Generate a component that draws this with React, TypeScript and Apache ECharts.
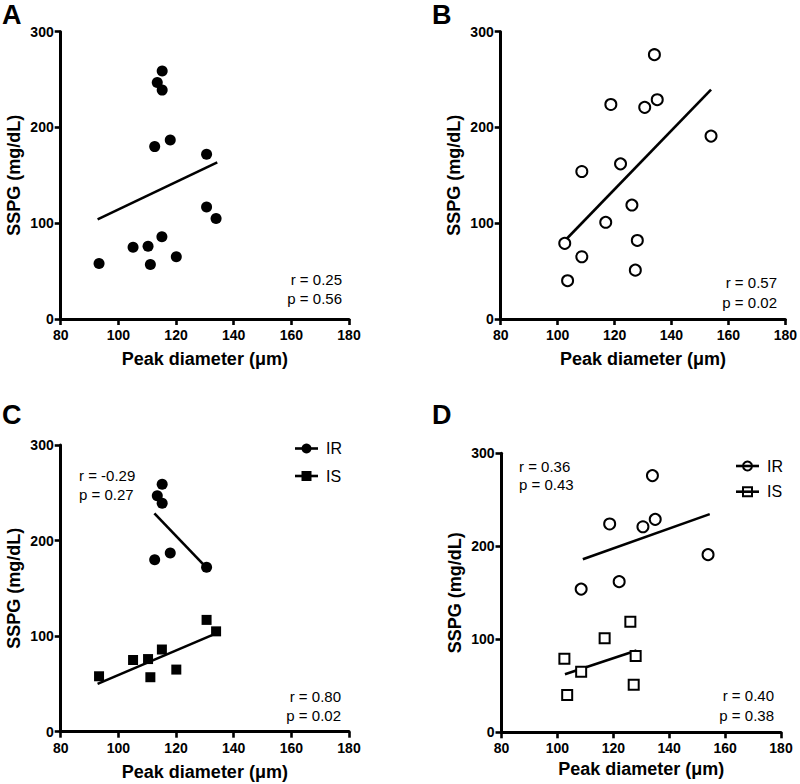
import React, { useEffect, useRef } from "react";
import * as echarts from "echarts";

// ---- Data ----
// Insulin-resistant (IR) subjects: [peak diameter µm, SSPG mg/dL]
const irA: number[][] = [
  [112.6, 180], [118, 187], [113.5, 247], [115.2, 259], [115.2, 239], [130.6, 172],
];
// Insulin-sensitive (IS) subjects
const isA: number[][] = [
  [93.3, 58], [105.1, 75], [110.3, 76], [111.1, 57], [115.1, 86], [120.1, 65], [130.6, 117], [133.9, 105],
];
const irB: number[][] = [
  [108.5, 154], [118.7, 224], [122.1, 162], [130.6, 221], [134, 276], [135, 229], [153.9, 191],
];
const isB: number[][] = [
  [102.5, 79], [103.5, 40], [108.5, 65], [116.9, 101], [126.1, 119], [127.3, 51], [128, 82],
];
// Regression lines (end points)
const fitA: number[][] = [[92.8, 104], [134.3, 163.5]];
const fitB: number[][] = [[102.6, 82], [153.9, 239.5]];
const fitCIR: number[][] = [[112.5, 228.5], [130.8, 171]];
const fitCIS: number[][] = [[92.8, 50], [132.5, 101]];
const fitDIR: number[][] = [[109.1, 186], [154.5, 234.6]];
const fitDIS: number[][] = [[102.7, 62.5], [128.3, 88]];

const xTicks = { min: 80, max: 180, interval: 20 };
const yTicks = { min: 0, max: 300, interval: 100 };

const panelLetters = ["A", "B", "C", "D"];
const statsA = ["r = 0.25", "p = 0.56"];
const statsB = ["r = 0.57", "p = 0.02"];
const statsCIR = ["r = -0.29", "p = 0.27"];
const statsCIS = ["r = 0.80", "p = 0.02"];
const statsDIR = ["r = 0.36", "p = 0.43"];
const statsDIS = ["r = 0.40", "p = 0.38"];
const legendNames = ["IR", "IS"];

const xName = "Peak diameter (\u03bcm)";
const yName = "SSPG (mg/dL)";

const FONT = "Liberation Sans, Arial, Helvetica, sans-serif";

export default function App() {
  const ref = useRef<HTMLDivElement>(null);

  useEffect(() => {
    if (!ref.current) return;
    const chart = echarts.init(ref.current, undefined, { renderer: "svg" });

    const grids = [
      { left: 60.7, top: 31.7, width: 288.3, height: 287.3 },
      { left: 500.7, top: 31.7, width: 287.6, height: 287.3 },
      { left: 60.7, top: 445, width: 288.3, height: 286.7 },
      { left: 501.5, top: 453.3, width: 279.5, height: 279 },
    ];

    const axisCommon = {
      axisLine: { show: true, lineStyle: { color: "#000", width: 3 } },
      axisTick: { show: true, inside: false, length: 6, lineStyle: { color: "#000", width: 2.6 } },
      splitLine: { show: false },
      nameTextStyle: { fontFamily: FONT, fontWeight: "bold", fontSize: 18, color: "#000" },
      nameLocation: "middle",
    };

    const xAxes = grids.map((_, i) => ({
      ...axisCommon,
      type: "value",
      gridIndex: i,
      min: xTicks.min,
      max: xTicks.max,
      interval: xTicks.interval,
      name: xName,
      nameGap: i === 3 ? 28 : 31,
      axisLabel: { fontFamily: FONT, fontWeight: "bold", fontSize: 14, color: "#000", margin: 9 },
    }));
    const yAxes = grids.map((_, i) => ({
      ...axisCommon,
      type: "value",
      gridIndex: i,
      min: yTicks.min,
      max: yTicks.max,
      interval: yTicks.interval,
      name: yName,
      nameGap: 38,
      axisLabel: { fontFamily: FONT, fontWeight: "bold", fontSize: 14, color: "#000", margin: 7 },
    }));

    const filled = { color: "#000", opacity: 1 };
    const open = { color: "#fff", borderColor: "#000", borderWidth: 2, opacity: 1 };

    const scatter = (data: number[][], idx: number, symbol: string, style: any, size: number, name?: string) => ({
      type: "scatter",
      name,
      xAxisIndex: idx,
      yAxisIndex: idx,
      data,
      symbol,
      symbolSize: size,
      itemStyle: style,
      emphasis: { disabled: true },
      z: 3,
    });
    const fit = (data: number[][], idx: number) => ({
      type: "line",
      xAxisIndex: idx,
      yAxisIndex: idx,
      data,
      symbol: "none",
      lineStyle: { color: "#000", width: 2.6 },
      z: 2,
    });

    const series = [
      // A
      fit(fitA, 0),
      scatter(irA, 0, "circle", filled, 11),
      scatter(isA, 0, "circle", filled, 11),
      // B
      fit(fitB, 1),
      scatter(irB, 1, "circle", open, 11),
      scatter(isB, 1, "circle", open, 11),
      // C
      fit(fitCIR, 2),
      fit(fitCIS, 2),
      scatter(irA, 2, "circle", filled, 11, "IR"),
      scatter(isA, 2, "rect", filled, 10, "IS"),
      // D
      fit(fitDIR, 3),
      fit(fitDIS, 3),
      scatter(irB, 3, "circle", open, 11, "IR"),
      scatter(isB, 3, "rect", open, 10, "IS"),
    ];

    const txt = (x: number, y: number, text: string, align: string, opts: any = {}) => ({
      type: "text",
      x,
      y,
      style: {
        text,
        fill: "#000",
        font: `${opts.weight || "normal"} ${opts.size || 15}px ${FONT}`,
        align,
        verticalAlign: "middle",
      },
    });

    const legendItem = (x1: number, x2: number, y: number, label: string, sym: string, filledSym: boolean) => {
      const cx = (x1 + x2) / 2;
      const els: any[] = [
        { type: "line", shape: { x1, y1: y, x2, y2: y }, style: { stroke: "#000", lineWidth: 2.6 }, z: 11 },
      ];
      if (sym === "circle") {
        els.push({
          type: "circle",
          shape: { cx, cy: y, r: filledSym ? 5 : 4.5 },
          style: { fill: filledSym ? "#000" : "none", stroke: "#000", lineWidth: filledSym ? 0 : 2 },
          z: 10,
        });
      } else {
        els.push({
          type: "rect",
          shape: { x: cx - (filledSym ? 5 : 4.5), y: y - (filledSym ? 5 : 4.5), width: filledSym ? 10 : 9, height: filledSym ? 10 : 9 },
          style: { fill: filledSym ? "#000" : "none", stroke: "#000", lineWidth: filledSym ? 0 : 2 },
          z: 10,
        });
      }
      els.push(txt(x2 + 8, y, label, "left", { size: 16 }));
      return els;
    };

    const graphic: any[] = [
      txt(2, 15, panelLetters[0], "left", { weight: "bold", size: 27 }),
      txt(432, 15, panelLetters[1], "left", { weight: "bold", size: 27 }),
      txt(2, 415, panelLetters[2], "left", { weight: "bold", size: 27 }),
      txt(432, 415, panelLetters[3], "left", { weight: "bold", size: 27 }),
      // stats
      txt(342, 279, statsA[0], "right"),
      txt(342, 298, statsA[1], "right"),
      txt(777, 282.5, statsB[0], "right"),
      txt(777, 302, statsB[1], "right"),
      txt(79, 475.7, statsCIR[0], "left"),
      txt(79, 494.3, statsCIR[1], "left"),
      txt(341, 696, statsCIS[0], "right"),
      txt(341, 715, statsCIS[1], "right"),
      txt(519, 466, statsDIR[0], "left"),
      txt(519, 484.5, statsDIR[1], "left"),
      txt(774, 695.7, statsDIS[0], "right"),
      txt(774, 715, statsDIS[1], "right"),
      // legends
      ...legendItem(295, 318, 448.5, legendNames[0], "circle", true),
      ...legendItem(295, 318, 476, legendNames[1], "rect", true),
      ...legendItem(736, 759, 466, legendNames[0], "circle", false),
      ...legendItem(736, 759, 491.7, legendNames[1], "rect", false),
    ];

    chart.setOption({
      animation: false,
      backgroundColor: "#fff",
      textStyle: { fontFamily: FONT },
      grid: grids.map((g) => ({ ...g, containLabel: false })),
      xAxis: xAxes,
      yAxis: yAxes,
      series,
      graphic,
    } as any);

    return () => chart.dispose();
  }, []);

  return (
    <div
      ref={ref}
      style={{ position: "fixed", left: 0, top: 0, width: 800, height: 784, background: "#fff" }}
    />
  );
}
